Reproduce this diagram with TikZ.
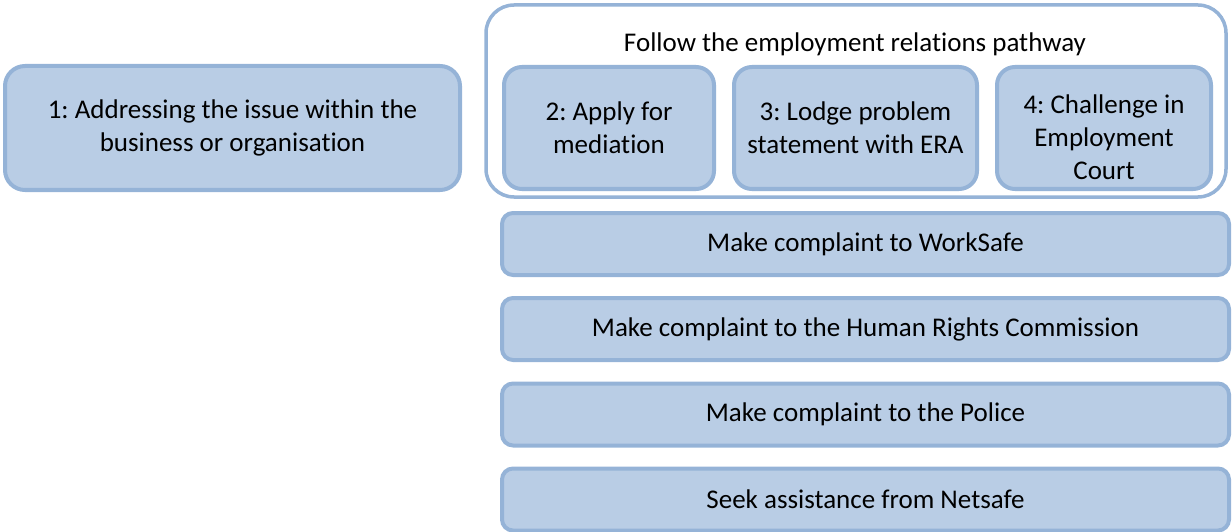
\documentclass[tikz,border=0pt]{standalone}
\usepackage{fontspec}
\setmainfont{Carlito}[Ligatures=NoCommon]
\usepackage{tikz}

\definecolor{boxfill}{HTML}{B9CDE5}
\definecolor{boxline}{HTML}{95B3D7}

\begin{document}
\frenchspacing
\begin{tikzpicture}
  [x=1pt,y=-1pt,
   every node/.style={font=\fontsize{27}{33}\selectfont,align=center,inner sep=0pt,outer sep=0pt},
   box/.style={draw=boxline,fill=boxfill,line width=4pt,rounded corners=20pt},
   wide/.style={box,rounded corners=11pt,minimum width=727pt,minimum height=62pt}]
  \useasboundingbox (0,0) rectangle (1232,532);

  \node[box,minimum width=455pt,minimum height=124pt] (s1) at (232.5,128)
    {1: Addressing the issue within the\\business or organisation};

  % employment relations frame
  \node[draw=boxline,line width=3.5pt,rounded corners=28pt,fill=white,
        minimum width=740pt,minimum height=192pt] (er) at (856,101) {};
  \node (ert) at (855,44) {Follow the employment relations pathway};

  \node[box,rounded corners=18pt,minimum width=210pt,minimum height=122pt] (s2) at (609,128)
    {2: Apply for\\mediation};
  \node[box,rounded corners=18pt,minimum width=243pt,minimum height=122pt] (s3) at (855.5,128)
    {3: Lodge problem\\statement with ERA};
  \node[box,rounded corners=18pt,minimum width=214pt,minimum height=122pt] (s4) at (1104,128) {};
  \node (s4t) at (1104,137) {4: Challenge in\\Employment\\Court};

  % other routes
  \foreach \y/\txt [count=\i] in {244/Make complaint to WorkSafe,
      329/Make complaint to the Human Rights Commission,
      414.5/Make complaint to the Police,
      499.5/Seek assistance from Netsafe}
    \node[wide] (c\i) at (865.5,\y) {\txt};

\end{tikzpicture}
\end{document}
